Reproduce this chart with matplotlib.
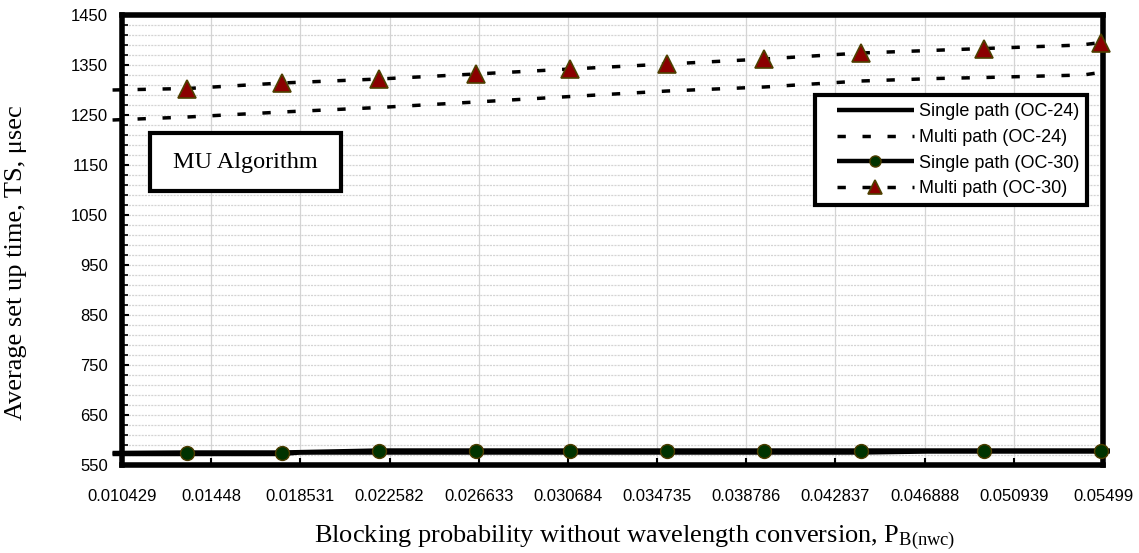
import matplotlib
matplotlib.use("Agg")
import matplotlib.pyplot as plt
from matplotlib.ticker import MultipleLocator, FixedLocator
from matplotlib.patches import Rectangle
from matplotlib.legend_handler import HandlerLine2D

plt.rcParams['lines.scale_dashes'] = False
plt.rcParams['mathtext.fontset'] = 'custom'
plt.rcParams['mathtext.rm'] = 'Liberation Serif'
plt.rcParams['mathtext.it'] = 'Liberation Serif:italic'

# ---------------- data ----------------
x_ticks = [0.010429, 0.01448, 0.018531, 0.022582, 0.026633, 0.030684,
           0.034735, 0.038786, 0.042837, 0.046888, 0.050939, 0.05499]
x_tick_labels = ["0.010429", "0.01448", "0.018531", "0.022582", "0.026633", "0.030684",
                 "0.034735", "0.038786", "0.042837", "0.046888", "0.050939", "0.05499"]
y_ticks = [550, 650, 750, 850, 950, 1050, 1150, 1250, 1350, 1450]

# Single path (OC-24) - solid line, no markers
x_single24 = [0.0100, 0.0177, 0.0185, 0.0440, 0.0470, 0.0553]
y_single24 = [572, 572, 575, 575, 577, 577]

# Multi path (OC-24) - dashed line, no markers
x_multi24 = [0.0100, 0.0134, 0.0177, 0.0221, 0.0265, 0.0308, 0.0352,
             0.0396, 0.0440, 0.0474, 0.0496, 0.0541, 0.0553]
y_multi24 = [1240, 1246, 1256, 1265, 1276, 1287, 1298,
             1306, 1318, 1323, 1325, 1330, 1338]

# Single path (OC-30) - solid line with circle markers
x_single30 = [0.0100, 0.0134, 0.0177, 0.0221, 0.0265, 0.0308, 0.0352,
              0.0396, 0.0440, 0.0496, 0.0549, 0.0553]
y_single30 = [574, 575, 575, 579, 579, 579, 579, 579, 579, 579, 579, 579]
mark_single30 = [1, 2, 3, 4, 5, 6, 7, 8, 9, 10]

# Multi path (OC-30) - dashed line with triangle markers
x_multi30 = [0.0100, 0.0134, 0.0177, 0.0221, 0.0265, 0.0308, 0.0352,
             0.0396, 0.0440, 0.0496, 0.0540, 0.0549, 0.0553]
y_multi30 = [1300, 1303, 1314, 1322, 1332, 1342, 1352,
             1362, 1374, 1383, 1390, 1395, 1402]
mark_multi30 = [1, 2, 3, 4, 5, 6, 7, 8, 9, 11]

labels = ["Single path (OC-24)", "Multi path (OC-24)",
          "Single path (OC-30)", "Multi path (OC-30)"]

# ---------------- figure ----------------
W, H = 1139, 553
fig = plt.figure(figsize=(W / 100, H / 100), dpi=100)
L, R, T, B = 122, 1103, 15, 465
ax = fig.add_axes([L / W, 1 - B / H, (R - L) / W, (B - T) / H])

dash = (0, (6, 12))
grid_c = '#d4d4d4'

ax.set_xlim(x_ticks[0], x_ticks[-1])
ax.set_ylim(y_ticks[0], y_ticks[-1])
ax.yaxis.set_major_locator(FixedLocator(y_ticks))
ax.yaxis.set_minor_locator(MultipleLocator(20, offset=10))
ax.xaxis.set_major_locator(FixedLocator(x_ticks))
ax.set_xticklabels(x_tick_labels)

ax.grid(which='major', axis='x', color=grid_c, lw=0.9, ls='-')
ax.grid(which='both', axis='y', color=grid_c, lw=0.9, ls=(0, (1.5, 0.8)))
ax.set_axisbelow(True)

l1, = ax.plot(x_single24, y_single24, color='black', lw=3.2, clip_on=False,
              solid_capstyle='butt', zorder=3)
l2, = ax.plot(x_multi24, y_multi24, color='black', lw=2.5, ls=dash,
              clip_on=False, dash_capstyle='butt', zorder=3)
l3, = ax.plot(x_single30, y_single30, color='black', lw=3.2, clip_on=False,
              marker='o', markevery=mark_single30, markersize=10,
              markerfacecolor='#003300', markeredgecolor='#4d3d00',
              markeredgewidth=1.0, solid_capstyle='butt', zorder=4)
l4, = ax.plot(x_multi30, y_multi30, color='black', lw=2.5, ls=dash,
              clip_on=False, marker='^', markevery=mark_multi30, markersize=13,
              markerfacecolor='#8b0000', markeredgecolor='#4d4000',
              markeredgewidth=1.2, dash_capstyle='butt', zorder=4)

for sp in ax.spines.values():
    sp.set_linewidth(4)
    sp.set_color('black')
    sp.set_capstyle('projecting')

ax.tick_params(axis='both', which='both', direction='in', color='black')
ax.tick_params(axis='y', which='major', length=5, width=1.5, pad=10)
ax.tick_params(axis='y', which='minor', length=4, width=1.2)
ax.tick_params(axis='x', which='major', length=5, width=1.5, pad=17)

for lab in ax.get_xticklabels() + ax.get_yticklabels():
    lab.set_fontfamily('Liberation Sans')
    lab.set_fontsize(12)

ax.set_xlabel("Blocking probability without wavelength conversion, P$_{\\rm B(nwc)}$",
              family='Liberation Serif', fontsize=19)
ax.xaxis.set_label_coords(0.523, -0.13)
ax.set_ylabel("Average set up time, TS, μsec", family='Liberation Serif',
              fontsize=19)
ax.yaxis.set_label_coords(-0.097, 0.45)

# MU Algorithm box
ax.add_patch(Rectangle((0.0285, 0.6089), 0.1947, 0.1289, transform=ax.transAxes,
                       fc='white', ec='black', lw=3, zorder=6, clip_on=False))
ax.text(0.1257, 0.6733, "MU Algorithm", transform=ax.transAxes,
        family='Liberation Serif', fontsize=17.5, ha='center', va='center',
        zorder=7)

fs_leg = 13
fs_px = fs_leg * 100 / 72
hmap = {l: HandlerLine2D(xpad=14 / fs_px) for l in (l1, l2, l3, l4)}
leg = ax.legend([l1, l2, l3, l4], labels, loc='upper right',
                bbox_to_anchor=(0.984, 0.822),
                prop={'family': 'Liberation Sans', 'size': fs_leg},
                frameon=True, fancybox=False, framealpha=1.0,
                handlelength=91 / fs_px, handletextpad=5 / fs_px,
                labelspacing=0.48, borderpad=0.45, borderaxespad=0.0,
                markerscale=0.8, handler_map=hmap)
leg.get_frame().set_edgecolor('black')
leg.get_frame().set_linewidth(3)
leg.set_zorder(8)

fig.savefig("out.png", dpi=100)
